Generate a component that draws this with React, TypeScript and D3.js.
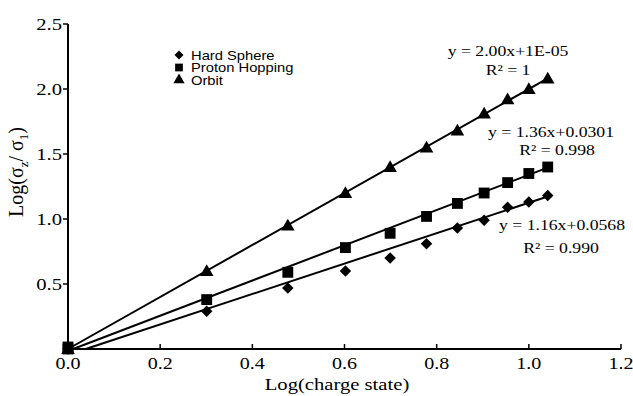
import React from "react";
import * as d3 from "d3";

const xVals = [0, 0.301, 0.477, 0.602, 0.699, 0.778, 0.845, 0.903, 0.954, 1.0, 1.041];
const hardSphere = [0, 0.29, 0.47, 0.6, 0.7, 0.81, 0.93, 0.99, 1.09, 1.13, 1.18];
const protonHopping = [0, 0.38, 0.59, 0.78, 0.89, 1.02, 1.12, 1.2, 1.28, 1.35, 1.4];
const orbit = [0, 0.6, 0.95, 1.2, 1.4, 1.55, 1.68, 1.81, 1.92, 2.0, 2.08];

const fitSlopes = [1.17, 1.355, 2.0];
const fitIntercepts = [-0.045, -0.015, 0];
const fitXMax = 1.041;

const xTicks = [0, 0.2, 0.4, 0.6, 0.8, 1.0, 1.2];
const yTicks = [0.5, 1.0, 1.5, 2.0, 2.5];

const legendLabels = ["Hard Sphere", "Proton Hopping", "Orbit"];
const eqLines = [
  ["y = 1.16x+0.0568", "R² = 0.990"],
  ["y = 1.36x+0.0301", "R² = 0.998"],
  ["y = 2.00x+1E-05", "R² = 1"],
];

const SX = 1.18;

function SText(props: { x: number; y: number; anchor?: string; family: string; size: number; children: React.ReactNode }) {
  return (
    <text
      transform={`translate(${props.x},${props.y}) scale(${SX},1)`}
      textAnchor={props.anchor || "start"}
      fontFamily={props.family}
      fontSize={props.size}
    >
      {props.children}
    </text>
  );
}

export default function App() {
  const W = 633, H = 396;
  const x = d3.scaleLinear().domain([0, 1.2]).range([68, 621]);
  const y = d3.scaleLinear().domain([0, 2.5]).range([349, 24]);
  const series = [hardSphere, protonHopping, orbit];
  const symTypes = [d3.symbolSquare, d3.symbolSquare, d3.symbolTriangle];
  const symRot = [45, 0, 0];
  const symSizes = [66, 118, 80];
  const serif = "'Liberation Serif', 'Times New Roman', serif";
  const sans = "'Liberation Sans', Arial, sans-serif";

  const eqPos = [
    { x: 562, y: 230, rx: 561, ry: 253 },
    { x: 551, y: 137, rx: 557, ry: 155 },
    { x: 508, y: 56, rx: 508, ry: 75 },
  ];

  return (
    <svg width={W} height={H} style={{ position: "absolute", left: 0, top: 0, background: "#fff" }}>
      {/* fit lines */}
      {fitSlopes.map((m, i) => {
        const b = fitIntercepts[i];
        const x0 = b < 0 ? -b / m : 0;
        const line = d3.line<number>().x((d) => x(d)).y((d) => y(m * d + b));
        return <path key={"f" + i} d={line([x0, fitXMax]) || ""} stroke="#000" strokeWidth={2} fill="none" />;
      })}
      {/* axes */}
      <line x1={x(0)} x2={x(1.2)} y1={y(0)} y2={y(0)} stroke="#000" strokeWidth={2} />
      <line x1={x(0)} x2={x(0)} y1={y(0)} y2={y(2.5)} stroke="#000" strokeWidth={2} />
      {xTicks.map((t) => (
        <g key={"xt" + t}>
          <line x1={x(t)} x2={x(t)} y1={y(0)} y2={y(0) - 5} stroke="#000" strokeWidth={1.5} />
          <SText x={x(t)} y={y(0) + 20} anchor="middle" family={serif} size={17}>
            {t.toFixed(1)}
          </SText>
        </g>
      ))}
      {yTicks.map((t) => (
        <g key={"yt" + t}>
          <line x1={x(0) - 5} x2={x(0)} y1={y(t)} y2={y(t)} stroke="#000" strokeWidth={1.5} />
          <SText x={x(0) - 6} y={y(t) + 6} anchor="end" family={serif} size={17.5}>
            {t.toFixed(1)}
          </SText>
        </g>
      ))}
      {/* axis labels */}
      <SText x={337} y={390} anchor="middle" family={serif} size={17.5}>
        Log(charge state)
      </SText>
      <text transform={`translate(23,172) rotate(-90)`} textAnchor="middle" fontFamily={serif} fontSize={20}>
        Log(σ<tspan fontSize={13} dy={5}>z</tspan>
        <tspan dy={-5}>/ σ</tspan>
        <tspan fontSize={13} dy={5}>1</tspan>
        <tspan dy={-5}>)</tspan>
      </text>
      {/* points */}
      {series.map((s, si) =>
        s.map((v, i) => (
          <path
            key={"p" + si + "-" + i}
            d={d3.symbol().type(symTypes[si]).size(symSizes[si])() || ""}
            transform={`translate(${x(xVals[i])},${y(v) + (si === 2 ? 1 : 0)}) rotate(${symRot[si]})`}
            fill="#000"
          />
        ))
      )}
      {/* origin square on top */}
      <path d={d3.symbol().type(d3.symbolSquare).size(118)() || ""} transform={`translate(${x(0)},${y(0) - 2})`} fill="#000" />
      {/* legend */}
      {legendLabels.map((l, i) => (
        <g key={"lg" + i} transform={`translate(179,${55 + i * 12.5})`}>
          <path
            d={d3.symbol().type(symTypes[i]).size(i === 0 ? 40 : i === 1 ? 60 : 55)() || ""}
            transform={`rotate(${symRot[i]})`}
            fill="#000"
          />
          <SText x={12} y={4.5} family={sans} size={12.5}>
            {l}
          </SText>
        </g>
      ))}
      {/* equations */}
      {eqLines.map((e, i) => (
        <g key={"eq" + i}>
          <SText x={eqPos[i].x} y={eqPos[i].y} anchor="middle" family={serif} size={15}>
            {e[0]}
          </SText>
          <SText x={eqPos[i].rx} y={eqPos[i].ry} anchor="middle" family={serif} size={15}>
            {e[1]}
          </SText>
        </g>
      ))}
    </svg>
  );
}
